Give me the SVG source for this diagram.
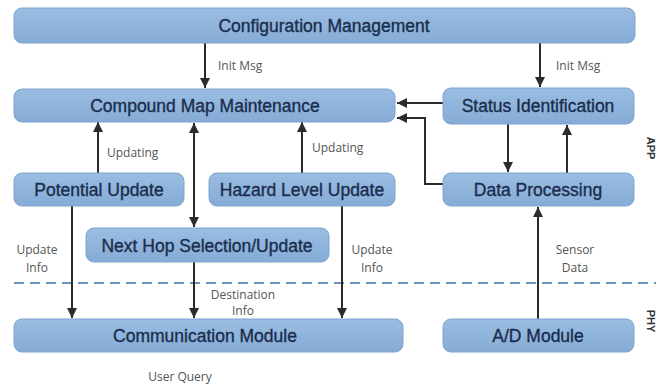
<svg xmlns="http://www.w3.org/2000/svg" width="665" height="386" viewBox="0 0 665 386">
  <defs>
    <linearGradient id="boxFill" x1="0" y1="0" x2="0" y2="1">
      <stop offset="0" stop-color="#9abde2"/>
      <stop offset="1" stop-color="#85acd6"/>
    </linearGradient>
    <marker id="arrow" viewBox="0 0 10 10" refX="10" refY="5" markerWidth="10" markerHeight="10" markerUnits="userSpaceOnUse" orient="auto-start-reverse">
      <path d="M0,0 L10,5 L0,10 z" fill="#2b2b2b"/>
    </marker>
  </defs>
  <style>
    .box { fill: url(#boxFill); stroke: #7fa4cd; stroke-width: 1; }
    .title { font-family: "Liberation Sans", Arial, sans-serif; font-size: 17.5px; fill: #1b2d4c; stroke: #1b2d4c; stroke-width: 0.35; text-anchor: middle; }
    .lbl { font-family: "Open Sans", "Liberation Sans", sans-serif; font-size: 12px; fill: #555; }
    .mid { text-anchor: middle; }
    .side { font-family: "Liberation Sans", Arial, sans-serif; font-size: 11px; font-weight: bold; fill: #333; text-anchor: middle; }
    .wire { fill: none; stroke: #2b2b2b; stroke-width: 2; }
    .layer { stroke: #6d93bf; stroke-width: 2; stroke-dasharray: 10 6; }
  </style>

  <rect width="665" height="386" fill="#ffffff"/>

  <!-- layer split between application and physical parts -->
  <line class="layer" x1="14" y1="283" x2="656" y2="283"/>
  <text class="side" transform="translate(647,148) rotate(90)">APP</text>
  <text class="side" transform="translate(647,321) rotate(90)">PHY</text>

  <g id="connectors">
    <line class="wire" x1="205" y1="43" x2="205" y2="88" marker-end="url(#arrow)"/>
    <line class="wire" x1="540" y1="43" x2="540" y2="87" marker-end="url(#arrow)"/>
    <line class="wire" x1="443" y1="103" x2="397" y2="103" marker-end="url(#arrow)"/>
    <path class="wire" d="M443,184 H425 V118 H397" marker-end="url(#arrow)"/>
    <line class="wire" x1="508" y1="124" x2="508" y2="172" marker-end="url(#arrow)"/>
    <line class="wire" x1="567" y1="173" x2="567" y2="125" marker-end="url(#arrow)"/>
    <line class="wire" x1="98" y1="173" x2="98" y2="122" marker-end="url(#arrow)"/>
    <line class="wire" x1="194" y1="123" x2="194" y2="227" marker-start="url(#arrow)" marker-end="url(#arrow)"/>
    <line class="wire" x1="302" y1="173" x2="302" y2="122" marker-end="url(#arrow)"/>
    <line class="wire" x1="72" y1="206" x2="72" y2="318" marker-end="url(#arrow)"/>
    <line class="wire" x1="194" y1="262" x2="194" y2="318" marker-end="url(#arrow)"/>
    <line class="wire" x1="342" y1="206" x2="342" y2="318" marker-end="url(#arrow)"/>
    <line class="wire" x1="538" y1="319" x2="538" y2="207" marker-end="url(#arrow)"/>

    <text class="lbl" x="218" y="70">Init Msg</text>
    <text class="lbl" x="556" y="70">Init Msg</text>
    <text class="lbl" x="107" y="157">Updating</text>
    <text class="lbl" x="312" y="152">Updating</text>
    <text class="lbl mid" x="37" y="254">Update</text>
    <text class="lbl mid" x="37" y="272">Info</text>
    <text class="lbl mid" x="372" y="254">Update</text>
    <text class="lbl mid" x="372" y="272">Info</text>
    <text class="lbl mid" x="243" y="299">Destination</text>
    <text class="lbl mid" x="243" y="315">Info</text>
    <text class="lbl mid" x="575" y="254">Sensor</text>
    <text class="lbl mid" x="575" y="272">Data</text>
    <text class="lbl mid" x="180" y="381">User Query</text>
  </g>

  <g id="config">
    <rect class="box" x="14" y="8" width="621" height="35" rx="8"/>
    <text class="title" x="324" y="31.5">Configuration Management</text>
  </g>
  <g id="compound-map">
    <rect class="box" x="14" y="89" width="381" height="33" rx="8"/>
    <text class="title" x="205" y="111.5">Compound Map Maintenance</text>
  </g>
  <g id="status-id">
    <rect class="box" x="443" y="88" width="191" height="36" rx="8"/>
    <text class="title" x="538" y="112">Status Identification</text>
  </g>
  <g id="potential-update">
    <rect class="box" x="14" y="173" width="170" height="33" rx="8"/>
    <text class="title" x="99" y="195.5">Potential Update</text>
  </g>
  <g id="hazard-update">
    <rect class="box" x="209" y="173" width="186" height="33" rx="8"/>
    <text class="title" x="302" y="195.5">Hazard Level Update</text>
  </g>
  <g id="data-processing">
    <rect class="box" x="443" y="173" width="191" height="33" rx="8"/>
    <text class="title" x="538" y="195.5">Data Processing</text>
  </g>
  <g id="next-hop">
    <rect class="box" x="86" y="228" width="243" height="34" rx="8"/>
    <text class="title" x="207" y="251.5">Next Hop Selection/Update</text>
  </g>
  <g id="comm-module">
    <rect class="box" x="14" y="319" width="389" height="33" rx="8"/>
    <text class="title" x="205" y="342">Communication Module</text>
  </g>
  <g id="ad-module">
    <rect class="box" x="443" y="319" width="191" height="33" rx="8"/>
    <text class="title" x="538" y="342">A/D Module</text>
  </g>
</svg>
